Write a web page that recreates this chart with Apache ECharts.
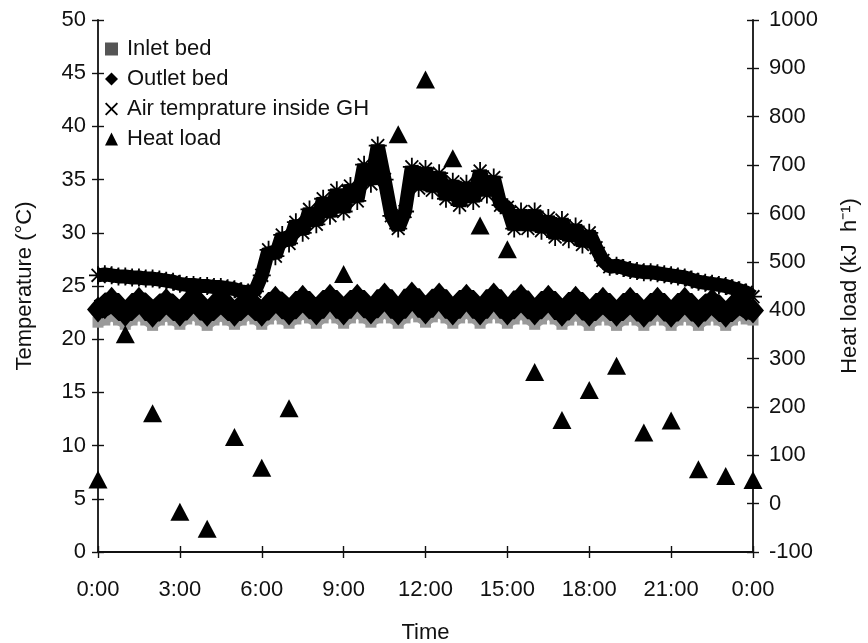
<!DOCTYPE html>
<html><head><meta charset="utf-8">
<script src="https://cdn.jsdelivr.net/npm/echarts@6/dist/echarts.min.js"></script>
<style>html,body{margin:0;padding:0;background:#fff}#c{width:868px;height:643px}</style>
</head><body><div id="c"></div>
<script>
const timeTickLabels = ['0:00','3:00','6:00','9:00','12:00','15:00','18:00','21:00','0:00'];
const seriesNames = ['Inlet bed','Outlet bed','Air temprature inside GH','Heat load'];
const sampleStepHours = 0.25;

const inletBed = [
21.6,21.8,22.2,21.8, 21.4,21.8,22.3,21.8, 21.3,21.8,22.2,21.8, 21.4,21.9,22.3,21.8,
21.3,21.8,22.2,21.8, 21.4,21.8,22.3,21.9, 21.4,21.9,22.4,21.9, 21.5,21.9,22.4,22.0,
21.5,22.0,22.5,22.0, 21.5,22.0,22.5,22.0, 21.6,22.0,22.5,22.0, 21.5,22.0,22.6,22.1,
21.6,22.1,22.5,22.0, 21.5,22.0,22.5,22.0, 21.5,22.0,22.5,22.0, 21.5,21.9,22.4,21.9,
21.4,21.9,22.4,21.9, 21.4,21.8,22.3,21.8, 21.3,21.8,22.3,21.8, 21.3,21.8,22.2,21.8,
21.3,21.8,22.3,21.8, 21.3,21.8,22.2,21.8, 21.3,21.8,22.3,21.8, 21.3,21.8,22.3,21.9,
21.8];

const outletBed = [
22.8,23.1,23.7,23.0, 22.4,23.0,23.7,23.1, 22.3,23.0,23.6,23.0, 22.4,23.1,23.8,23.1,
22.4,23.0,23.7,23.0, 22.4,23.0,23.6,23.0, 22.4,23.1,23.8,23.2, 22.5,23.2,23.9,23.2,
22.5,23.3,24.0,23.3, 22.5,23.3,24.0,23.3, 22.6,23.3,24.1,23.3, 22.5,23.3,24.2,23.4,
22.6,23.4,24.1,23.3, 22.5,23.3,24.0,23.3, 22.5,23.3,24.1,23.3, 22.5,23.2,24.0,23.2,
22.5,23.2,23.9,23.2, 22.4,23.1,23.8,23.1, 22.4,23.0,23.7,23.0, 22.4,23.0,23.7,23.0,
22.3,23.0,23.7,23.0, 22.3,23.0,23.7,23.0, 22.3,23.0,23.6,22.9, 22.3,22.9,23.6,22.9,
22.7];

const airTemp = [
26.0,26.1,26.0,25.9, 25.9,25.8,25.8,25.7, 25.7,25.6,25.5,25.4, 25.2,25.1,25.1,25.0,
25.0,24.9,24.9,24.8, 24.7,24.5,24.4,24.5, 26.0,28.4,27.8,29.8, 29.0,31.0,30.0,32.2,
30.8,33.2,31.6,34.0, 32.0,34.4,33.0,36.4, 34.6,38.2,35.0,31.6, 30.4,32.0,36.2,34.2,
36.0,34.0,35.6,33.2, 34.8,32.6,34.6,33.0, 35.8,33.6,35.2,32.6, 32.4,30.4,32.0,30.4,
32.0,30.2,31.4,29.6, 31.2,29.4,30.6,28.9, 30.0,28.6,27.4,26.8, 26.9,26.7,26.5,26.4,
26.3,26.3,26.2,26.1, 26.0,25.9,25.8,25.6, 25.4,25.3,25.2,25.1, 25.0,24.8,24.6,24.4,
24.0];

const heatHours = [0,1,2,3,4,5,6,7,8,9,10,11,12,13,14,15,16,17,18,19,20,21,22,23,24];
const heatLoad = [50,350,187,-17,-52,138,74,197,null,475,null,764,877,714,575,526,272,173,235,285,147,172,71,57,49];

const pair = arr => arr.map((v, i) => [i * sampleStepHours, v]);
const FONT = "'Liberation Sans', Arial, sans-serif";
const TXT = '#111';
const asterisk = 'path://M9,0L11,0L11,7.6L16.4,2.2L17.8,3.6L12.4,9L20,9L20,11L12.4,11L17.8,16.4L16.4,17.8L11,12.4L11,20L9,20L9,12.4L3.6,17.8L2.2,16.4L7.6,11L0,11L0,9L7.6,9L2.2,3.6L3.6,2.2L9,7.6Z';
const xIcon = 'path://M1,0L5,4L9,0L10,1L6,5L10,9L9,10L5,6L1,10L0,9L4,5L0,1Z';

const axisLine = {show:true, onZero:false, lineStyle:{color:'#111', width:1.8}};
const noLine = {show:false, onZero:false};
const tickOut = {show:true, length:6, lineStyle:{color:'#111', width:1.4}};
const tickIn = {show:true, inside:true, length:6, lineStyle:{color:'#111', width:1.4}};
const labelStyle = {fontSize:22, color:TXT, fontFamily:FONT};

const chart = echarts.init(document.getElementById('c'));
chart.setOption({
  animation:false,
  backgroundColor:'#fff',
  textStyle:{fontFamily:FONT},
  grid:{left:98, right:115, top:20, bottom:91, containLabel:false, outerBoundsMode:'none'},
  legend:{
    orient:'vertical', left:105, top:38, itemGap:8, itemWidth:13, itemHeight:13,
    textStyle:Object.assign({padding:[0,0,0,4]}, labelStyle), padding:0,
    data:[
      {name:seriesNames[0], icon:'rect', itemStyle:{color:'#555'}},
      {name:seriesNames[1], icon:'diamond'},
      {name:seriesNames[2], icon:xIcon},
      {name:seriesNames[3], icon:'triangle'}
    ]
  },
  xAxis:[
    {type:'value', min:0, max:24, interval:3, position:'bottom',
     axisLine, axisTick:tickOut, splitLine:{show:false},
     axisLabel:Object.assign({margin:27, formatter:(v)=>timeTickLabels[Math.round(v/3)]}, labelStyle),
     name:'Time', nameLocation:'middle', nameGap:70, nameTextStyle:labelStyle},
    {type:'value', min:0, max:24, interval:3, position:'bottom',
     axisLine:noLine, axisTick:tickIn, axisLabel:{show:false}, splitLine:{show:false}}
  ],
  yAxis:[
    {type:'value', min:0, max:50, interval:5, position:'left',
     axisLine, axisTick:tickOut, splitLine:{show:false},
     axisLabel:Object.assign({margin:12}, labelStyle),
     name:'Temperature (°C)', nameLocation:'middle', nameGap:62, nameTextStyle:labelStyle},
    {type:'value', min:-100, max:1000, interval:100, position:'right',
     axisLine, axisTick:tickOut, splitLine:{show:false},
     axisLabel:Object.assign({margin:16, formatter:(v)=>String(v)}, labelStyle),
     name:'Heat load (kJ  h\u207B\u00B9)', nameLocation:'middle', nameGap:86, nameRotate:90,
     nameTextStyle:labelStyle},
    {type:'value', min:0, max:50, interval:5, position:'left',
     axisLine:noLine, axisTick:tickIn, axisLabel:{show:false}, splitLine:{show:false}},
    {type:'value', min:-100, max:1000, interval:100, position:'right',
     axisLine:noLine, axisTick:tickIn, axisLabel:{show:false}, splitLine:{show:false}}
  ],
  series:[
    {name:seriesNames[0], type:'line', data:pair(inletBed), xAxisIndex:0, yAxisIndex:0,
     color:'#a3a3a3', lineStyle:{width:10, color:'#a0a0a0'}, symbol:'rect', symbolSize:11,
     itemStyle:{color:'#999'}, z:2},
    {name:seriesNames[1], type:'line', data:pair(outletBed), xAxisIndex:0, yAxisIndex:0,
     color:'#000', lineStyle:{width:20, color:'#000'}, symbol:'diamond', symbolSize:[22,26],
     itemStyle:{color:'#000'}, z:3},
    {name:seriesNames[2], type:'line', data:pair(airTemp), xAxisIndex:0, yAxisIndex:0,
     color:'#000', lineStyle:{width:14, color:'#000'}, symbol:asterisk, symbolSize:18,
     itemStyle:{color:'#000'}, z:4},
    {name:seriesNames[3], type:'scatter', data:heatHours.map((h,i)=>[h, heatLoad[i]]),
     xAxisIndex:0, yAxisIndex:1, symbol:'triangle', symbolSize:[19,18],
     itemStyle:{color:'#000', opacity:1}, z:5}
  ]
});
</script></body></html>
